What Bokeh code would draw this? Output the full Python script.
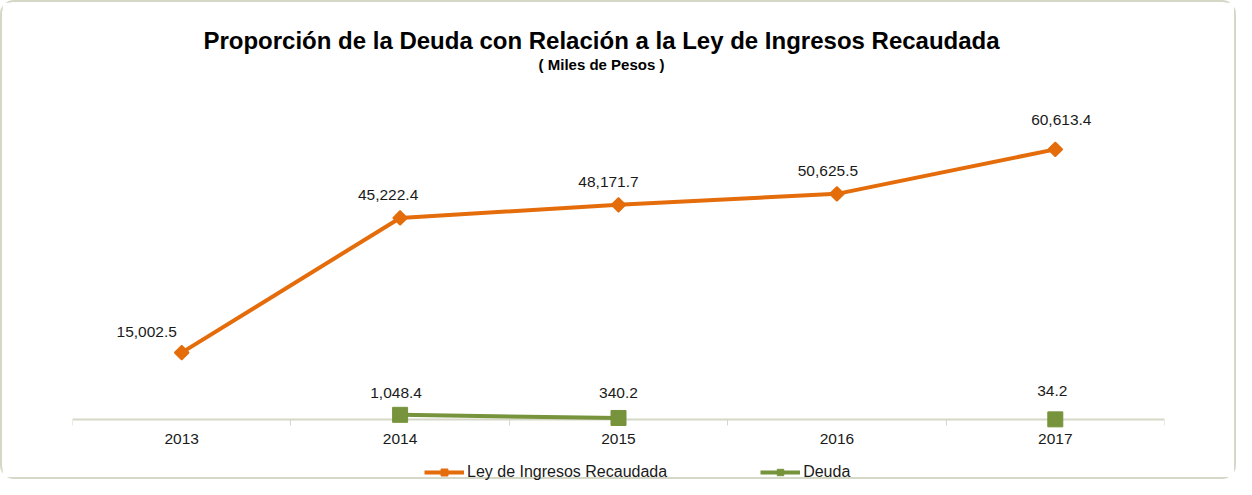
import math
from bokeh.plotting import figure
from bokeh.models import (ColumnDataSource, Range1d, FixedTicker, Label, Legend, LegendItem)
from bokeh.core.properties import value
from bokeh.embed import file_html
from bokeh.resources import INLINE

# ---- data ----
years = ["2013", "2014", "2015", "2016", "2017"]
ley_ingresos = [15002.5, 45222.4, 48171.7, 50625.5, 60613.4]
deuda = [None, 1048.4, 340.2, None, 34.2]
title_text = "Proporción de la Deuda con Relación a la Ley de Ingresos Recaudada"
subtitle_text = "( Miles de Pesos )"
series_names = ["Ley de Ingresos Recaudada", "Deuda"]

# ---- style / layout ----
ORANGE = "#E46C0A"
GREEN = "#77933C"
AXIS_COL = "#D5D8C6"
FONT = "Liberation Sans"
W, H = 1236, 479
ML, MR = 70, 74
zero_px_from_top = 417          # y=0 sits this far below the top edge
px_per_unit = 0.004457
y_end = zero_px_from_top / px_per_unit
y_start = -(H - zero_px_from_top) / px_per_unit

ley_dx = [-35, -12, -10, -9, 6]
ley_dy = [-21, -23, -23, -23, -29]
deu_dx = [0, -4, 0, 0, -3]
deu_dy = [0, -22, -25, 0, -28]

def fmt(v):
    return "" if v is None else f"{v:,.1f}"

xs = [i + 0.5 for i in range(len(years))]

p = figure(width=W, height=H, output_backend="svg", toolbar_location=None,
           x_range=Range1d(0, len(years)), y_range=Range1d(y_start, y_end),
           min_border_left=ML, min_border_right=MR, min_border_top=0,
           min_border_bottom=0, outline_line_color=None, title=None)
p.styles = {"border": "2px solid #D5D8C6", "border-radius": "14px",
            "box-sizing": "border-box"}
p.background_fill_color = "white"
p.border_fill_color = "white"
p.grid.visible = False
p.yaxis.visible = False

ax = p.xaxis[0]
ax.fixed_location = 0
ax.ticker = FixedTicker(ticks=xs, minor_ticks=list(range(len(years) + 1)))
ax.major_label_overrides = {x: y for x, y in zip(xs, years)}
ax.major_tick_line_color = None
ax.major_tick_out = 0
ax.major_tick_in = 0
ax.minor_tick_line_color = AXIS_COL
ax.minor_tick_line_width = 1
ax.minor_tick_out = 6
ax.minor_tick_in = 0
ax.axis_line_color = AXIS_COL
ax.axis_line_width = 2
ax.major_label_standoff = 8
ax.major_label_text_font = FONT
ax.major_label_text_font_size = "15.5px"
ax.major_label_text_color = "#1a1a1a"

# Ley de ingresos series
src_ley = ColumnDataSource(dict(x=xs, y=ley_ingresos,
                                lab=[fmt(v) for v in ley_ingresos],
                                dx=ley_dx, dy=ley_dy))
l1 = p.line("x", "y", source=src_ley, line_color=ORANGE, line_width=4,
            level="annotation")
m1 = p.scatter("x", "y", source=src_ley, marker="square", size=10,
               angle=math.pi / 4, fill_color=ORANGE, line_color=ORANGE,
               line_width=1.5, level="annotation")
p.text("x", "y", text="lab", source=src_ley, x_offset="dx", y_offset="dy",
       text_align="center", text_baseline="middle", text_font=value(FONT),
       text_font_size="15.5px", text_color="#1a1a1a")

# Deuda series
deuda_y = [float("nan") if v is None else v for v in deuda]
src_deu = ColumnDataSource(dict(x=xs, y=deuda_y, lab=[fmt(v) for v in deuda],
                                dx=deu_dx, dy=deu_dy))
l2 = p.line("x", "y", source=src_deu, line_color=GREEN, line_width=4,
            level="annotation")
m2 = p.scatter("x", "y", source=src_deu, marker="square", size=15,
               fill_color=GREEN, line_color=GREEN, level="annotation")
p.text("x", "y", text="lab", source=src_deu, x_offset="dx", y_offset="dy",
       text_align="center", text_baseline="middle", text_font=value(FONT),
       text_font_size="15.5px", text_color="#1a1a1a")

# titles (screen units relative to the frame's bottom-left corner)
p.add_layout(Label(x=529, y=H - 37.5, x_units="screen", y_units="screen",
                   text=title_text, text_align="center", text_baseline="middle",
                   text_font=FONT, text_font_size="24px", text_font_style="bold",
                   text_color="#000000"))
p.add_layout(Label(x=529, y=H - 62, x_units="screen", y_units="screen",
                   text=subtitle_text, text_align="center", text_baseline="middle",
                   text_font=FONT, text_font_size="15px", text_font_style="bold",
                   text_color="#000000"))

legend = Legend(items=[LegendItem(label=series_names[0], renderers=[l1, m1]),
                       LegendItem(label=series_names[1], renderers=[l2, m2])],
                orientation="horizontal", location=(352, 0),
                glyph_width=40, glyph_height=16, label_standoff=3, spacing=93,
                padding=0, margin=0, border_line_color=None,
                background_fill_alpha=0, label_text_font=FONT,
                label_text_font_size="16px", label_text_color="#1a1a1a")
p.add_layout(legend, "center")

open("out.html", "w").write(file_html(p, INLINE))
